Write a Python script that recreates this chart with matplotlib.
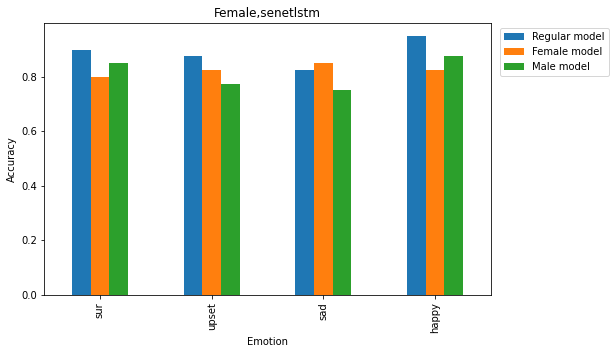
import matplotlib
matplotlib.use("Agg")
import matplotlib.pyplot as plt
import numpy as np

emotions = ["sur", "upset", "sad", "happy"]
regular = [0.900, 0.875, 0.825, 0.950]
female = [0.800, 0.825, 0.850, 0.825]
male = [0.850, 0.775, 0.750, 0.875]
series_names = ["Regular model", "Female model", "Male model"]
colors = ["#1f77b4", "#ff7f0e", "#2ca02c"]

W, H = 613, 354
fig = plt.figure(figsize=(W / 72, H / 72), dpi=72)
ax = fig.add_axes([44 / W, (H - 295) / H, 447 / W, 272 / H])

x = np.arange(len(emotions))
bw = 0.5 / 3
for i, (vals, name, c) in enumerate(zip([regular, female, male], series_names, colors)):
    ax.bar(x + (i - 1) * bw, vals, width=bw, color=c, label=name)

ax.set_xlim(-0.5, len(emotions) - 0.5)
ax.set_ylim(0, 0.9975)
ax.set_xticks(x)
ax.set_xticklabels(emotions, rotation=90)
ax.set_yticks(np.arange(0, 0.81, 0.2))
ax.set_xlabel("Emotion")
ax.set_ylabel("Accuracy")
ax.set_title("Female,senetlstm")
ax.legend(loc="upper left", bbox_to_anchor=(1.01, 1.0))

fig.savefig("out.png", dpi=72)
